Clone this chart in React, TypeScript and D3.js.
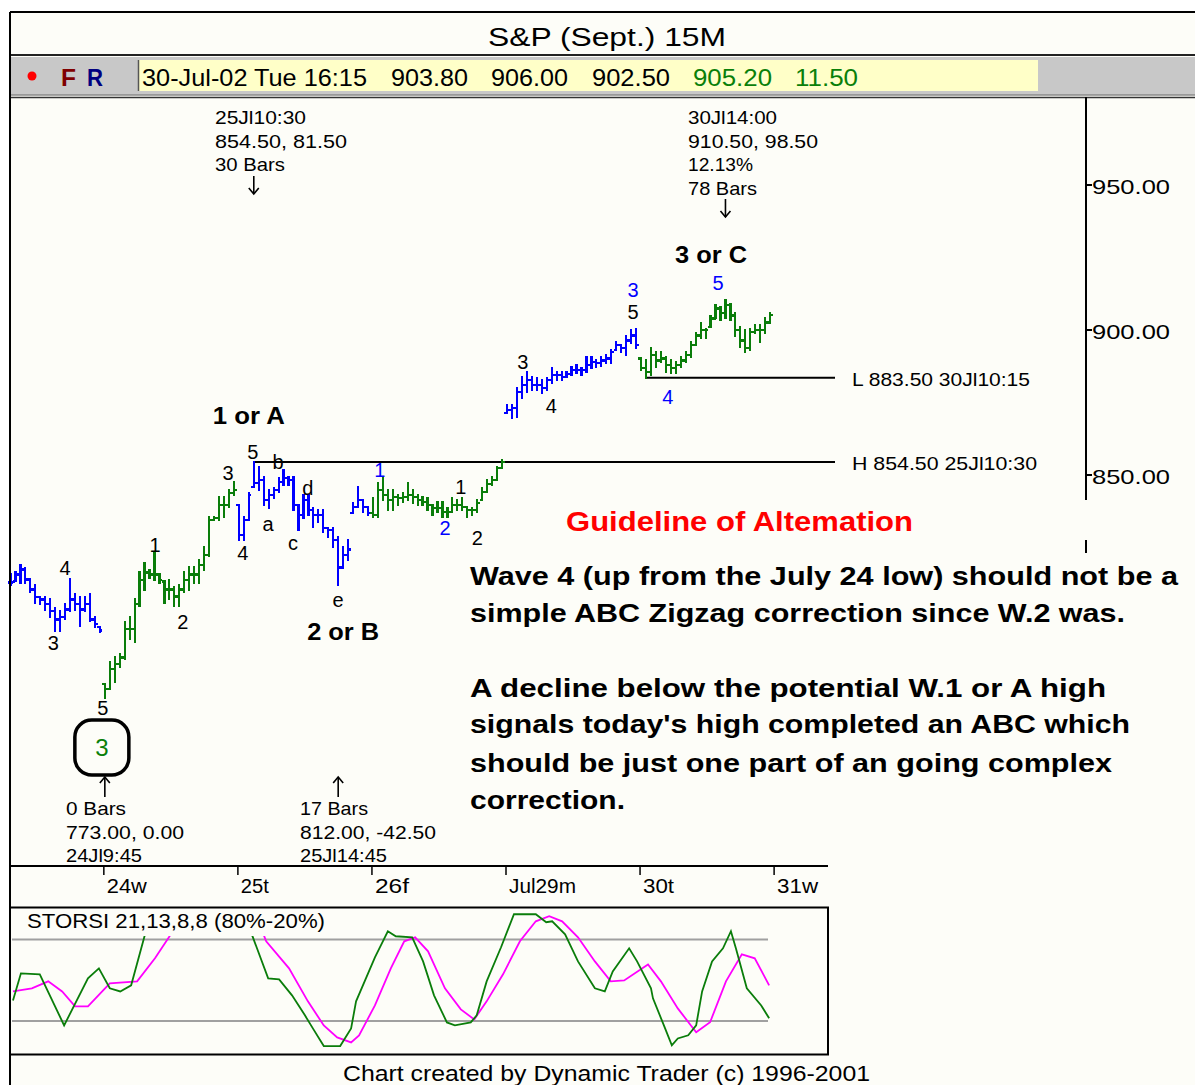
import React from "react";
import * as d3 from "d3";

type Bar = [number, number, number]; // high, low, close

// ---- price bars (15 min), one array per session ----
const jul23: Bar[] = [
  [815.7,812.2,812.9],[816.7,813.3,815.7],[819.1,812.9,817.4],[818.1,812.9,814.0],[814.0,809.5,810.5],
  [812.2,806.0,807.8],[808.1,805.4,807.1],[807.8,803.6,805.4],[807.1,801.2,803.0],[804.3,796.1,800.2],
  [803.0,796.1,800.9],[805.4,800.2,803.6],[814.0,803.0,807.1],[808.8,803.6,805.4],[807.8,797.8,803.6],
  [808.1,803.0,805.4],[808.8,799.5,800.2],[800.9,797.5,798.5],[797.5,795.7,796.4]
];
const jul24: Bar[] = [
  [777.9,773.0,776.1],[785.4,776.1,783.0],[787.1,778.6,784.7],[788.2,783.7,787.1],[799.2,786.5,796.8],
  [800.9,793.3,796.8],[807.1,792.3,805.4],[816.4,804.7,813.9],[819.8,810.5,816.4],[817.4,814.6,815.7],
  [823.2,813.9,815.7],[815.7,812.9,813.9],[813.3,806.0,810.5],[813.9,807.1,810.5],[811.5,804.7,808.1],
  [812.2,804.7,810.5],[816.4,809.5,813.9],[818.4,810.5,815.7],[818.4,812.9,815.7],[820.8,812.9,819.1],
  [825.3,817.4,822.5],[835.6,821.9,834.6],[835.6,834.6,835.3],[842.5,834.6,839.7],[842.5,835.6,839.7],
  [844.9,839.0,843.8],[847.6,843.2,844.9]
];
const jul25: Bar[] = [
  [839.7,827.7,829.4],[835.6,827.7,834.6],[843.8,834.6,843.2],[854.5,845.9,847.3],[852.8,844.9,848.3],
  [849.3,839.7,841.4],[844.9,838.7,843.2],[845.6,842.1,844.9],[849.0,844.2,847.6],[851.7,846.6,849.0],
  [849.3,846.6,848.3],[849.3,838.0,839.7],[839.7,831.1,836.3],[843.2,835.3,841.4],[843.2,836.3,838.0],
  [838.7,832.2,836.3],[838.0,833.9,836.3],[838.0,830.4,831.8],[831.8,828.7,831.1],[831.8,825.3,827.7],
  [828.7,812.0,818.1],[825.3,818.1,822.5],[827.7,820.8,824.3],[840.4,837.0,839.0],[845.9,839.0,841.4],
  [841.4,837.3,839.0],[839.0,836.3,837.0]
];
const jul26: Bar[] = [
  [842.1,835.6,836.3],[847.3,835.6,844.9],[849.0,841.4,843.2],[844.9,838.0,841.4],[844.9,838.0,842.5],
  [843.2,839.7,842.1],[843.8,840.8,842.5],[847.3,841.4,843.2],[844.9,840.4,842.5],[843.2,839.7,841.4],
  [842.5,839.7,840.8],[842.1,838.0,839.7],[839.7,836.3,838.7],[840.8,837.3,838.7],[840.8,835.6,837.3],
  [838.7,835.6,837.3],[842.1,837.3,839.7],[841.4,838.0,839.7],[842.1,838.0,839.0],[839.0,835.6,838.0],
  [838.7,836.3,838.0],[841.4,837.3,840.4],[845.6,841.4,844.2],[848.3,844.2,846.9],[849.3,846.6,848.3],
  [852.8,848.3,852.4],[855.2,852.4,854.5]
];
const jul29: Bar[] = [
  [874.1,871.3,872.4],[874.1,869.6,873.1],[879.9,870.0,878.6],[883.7,876.5,881.0],[885.4,878.6,882.7],
  [883.7,879.2,881.0],[883.4,879.2,881.0],[882.7,878.2,880.0],[883.4,879.2,882.7],[886.8,881.6,884.4],
  [885.4,882.7,884.4],[885.4,882.7,883.7],[885.4,883.7,884.7],[887.1,884.4,886.1],[887.8,885.1,886.1],
  [886.8,884.4,886.1],[890.6,885.4,887.8],[890.6,886.8,888.9],[889.5,887.1,888.5],[890.6,887.5,889.5],
  [891.3,888.5,890.2],[893.0,888.5,892.3],[895.7,893.0,894.7],[894.7,892.3,893.7],[898.1,891.3,896.4],
  [899.9,895.4,898.1],[900.5,893.7,894.7]
];
const jul30: Bar[] = [
  [890.2,886.1,886.8],[889.5,883.5,885.4],[893.7,884.4,891.3],[892.3,887.1,889.5],[892.3,888.9,890.2],
  [890.6,885.4,887.8],[889.5,885.1,886.8],[888.9,885.1,887.8],[890.6,887.1,889.5],[892.3,888.9,891.3],
  [895.7,890.6,894.7],[898.8,894.7,898.1],[902.3,897.1,899.9],[900.5,897.1,899.9],[905.0,900.9,904.0],
  [908.5,904.0,907.4],[907.8,903.3,906.0],[910.5,904.0,908.5],[909.1,903.3,905.0],[906.0,898.1,899.9],
  [900.9,894.0,896.4],[899.9,892.3,893.7],[900.5,893.0,899.2],[901.6,898.8,899.9],[901.6,895.7,899.9],
  [904.0,898.8,902.6],[906.0,902.5,905.2]
];
const sessions: Bar[][] = [jul23, jul24, jul25, jul26, jul29, jul30];
const sessionColors = ["#0000ff", "#0a7d0a", "#0000ff", "#0a7d0a", "#0000ff", "#0a7d0a"];

// ---- axes ----
const dayTickLabels = ["24w", "25t", "26f", "Jul29m", "30t", "31w"];
const dayTickIndex = [19, 46, 73, 100, 127, 154];
const dayTickWidths = [40, 28, 34, 67, 31, 41];
const priceTicks = [950, 900, 850];

// ---- STORSI oscillator: [bar index, value] ----
const stochK: [number, number][] = [
  [0.5,35.1],[2.1,55.0],[5.9,54.3],[10.8,16.7],[15.6,51.3],[17.8,58.7],[20.0,44.0],[22.1,41.7],[24.3,46.2],
  [27.1,83.7],[28.1,99.6],[47.2,99.6],[48.6,83.7],[51.9,51.3],[54.1,50.6],[56.7,38.8],[59.3,24.1],[60.9,14.5],
  [63.1,1.5],[66.4,1.5],[68.6,14.5],[69.6,34.4],[73.4,66.8],[76.0,86.0],[77.6,82.3],[80.9,81.5],[83.1,63.8],
  [85.3,38.8],[87.9,18.9],[89.5,16.7],[92.7,18.9],[93.9,24.1],[95.9,49.1],[98.8,74.2],[101.4,98.5],[105.8,98.5],
  [107.9,92.6],[109.1,93.3],[111.7,83.7],[114.3,63.8],[117.7,44.0],[119.7,41.7],[121.3,56.4],[124.6,73.4],
  [126.2,63.8],[129.0,44.0],[129.4,36.6],[131.6,16.7],[133.2,2.0],[134.4,7.1],[136.5,9.4],[138.1,16.7],
  [139.3,41.7],[141.3,63.8],[143.5,73.4],[145.1,86.0],[146.1,73.4],[148.3,44.0],[151.2,31.4],[152.8,21.9]
];
const stochD: [number, number][] = [
  [0.5,41.7],[4.3,44.0],[7.6,49.1],[10.4,41.7],[13.0,30.7],[15.6,30.7],[20.0,47.6],[25.5,49.1],[29.1,66.1],
  [32.3,83.7],[36.2,99.3],[49.8,94.6],[51.5,78.6],[56.1,58.7],[59.9,34.4],[63.1,16.7],[65.8,7.9],[68.6,4.2],
  [70.2,9.4],[73.4,31.4],[76.6,58.7],[79.3,78.6],[81.5,81.5],[84.1,71.2],[87.5,44.0],[90.7,28.5],[93.4,21.1],
  [95.9,34.4],[99.2,54.3],[102.6,78.6],[105.8,93.3],[108.5,97.0],[111.1,93.3],[114.3,81.5],[117.7,63.8],
  [120.9,49.1],[123.6,49.8],[128.4,61.6],[131.0,49.1],[134.4,29.2],[138.1,11.6],[140.9,19.0],[144.1,49.1],
  [147.3,69.0],[149.9,66.1],[152.8,46.2]
];
const oscBands = [80, 20];

// ---- wave labels: [text, bar index, price, colour] ----
const waveLabels: [string, number, number, string][] = [
  ["4", 11.0, 817.9, "#000"], ["3", 8.6, 792.1, "#000"], ["5", 18.6, 769.7, "#000"],
  ["1", 29.1, 825.9, "#000"], ["2", 34.7, 799.3, "#000"], ["3", 43.8, 850.7, "#000"],
  ["4", 46.8, 823.1, "#000"], ["5", 48.8, 857.9, "#000"], ["b", 53.9, 854.5, "#000"],
  ["a", 51.9, 833.1, "#000"], ["c", 56.9, 826.6, "#000"], ["d", 59.9, 845.5, "#000"],
  ["e", 65.96, 806.9, "#000"], ["1", 74.4, 851.7, "#0000ff"], ["2", 87.5, 831.7, "#0000ff"],
  ["1", 90.7, 845.9, "#000"], ["2", 94.0, 828.3, "#000"], ["3", 103.2, 889.0, "#000"],
  ["4", 108.9, 873.8, "#000"], ["3", 125.4, 913.8, "#0000ff"], ["5", 125.4, 906.2, "#000"],
  ["4", 132.4, 876.9, "#0000ff"], ["5", 142.5, 916.2, "#0000ff"]
];
const degreeLabels: [string, number, number][] = [
  ["1 or A", 48.0, 870.3], ["2 or B", 67.0, 795.9], ["3 or C", 141.1, 925.9]
];

// ---- swing annotations ----
const highInfo = ["25Jl10:30", "854.50, 81.50", "30 Bars"];
const highInfo2 = ["30Jl14:00", "910.50, 98.50", "12.13%", "78 Bars"];
const lowInfo = ["0 Bars", "773.00, 0.00", "24Jl9:45"];
const lowInfo2 = ["17 Bars", "812.00, -42.50", "25Jl14:45"];
const levelLines: [string, number, number][] = [["H 854.50 25Jl10:30", 49, 854.5], ["L 883.50 30Jl10:15", 128, 883.5]];

const statusValues = ["903.80", "906.00", "902.50", "905.20", "11.50"];
const paragraph = [
  "Wave 4 (up from the July 24 low) should not be a",
  "simple ABC Zigzag correction since W.2 was.",
  "",
  "A decline below the potential W.1 or A high",
  "signals today's high completed an ABC which",
  "should be just one part of an going complex",
  "correction."
];

const BG = "#fdfdf8";
const FONT = "'Liberation Sans', Arial, sans-serif";

const x = d3.scaleLinear().domain([0, 154]).range([10.5, 10.5 + 154 * 4.965]);
const y = d3.scaleLinear().domain([850, 950]).range([475, 185]);
const oy = d3.scaleLinear().domain([0, 100]).range([1048.1, 912.2]);

function T(props: any) {
  const { x: tx, y: ty, w, size = 20, fill = "#000", weight = "normal", anchor = "start", children, baseline, family } = props;
  return (
    <text x={tx} y={ty} fontSize={size} fill={fill} fontWeight={weight} textAnchor={anchor}
      fontFamily={family || FONT} dominantBaseline={baseline}
      {...(w ? { textLength: w, lengthAdjust: "spacingAndGlyphs" } : {})}>{children}</text>
  );
}

function Arrow({ ax, y1, y2 }: { ax: number; y1: number; y2: number }) {
  const d = y2 > y1 ? -6 : 6;
  return (
    <g stroke="#000" strokeWidth={1.6} fill="none">
      <line x1={ax} x2={ax} y1={y1} y2={y2} />
      <polyline points={`${ax - 5},${y2 + d} ${ax},${y2} ${ax + 5},${y2 + d}`} />
    </g>
  );
}

export default function App() {
  const bars: JSX.Element[] = [];
  let idx = 0;
  let prevClose: number | null = null;
  sessions.forEach((sess, si) => {
    const col = sessionColors[si];
    sess.forEach(([h, l, c]) => {
      const o = prevClose == null ? c : Math.max(l, Math.min(h, prevClose));
      const cx = x(idx);
      bars.push(
        <g key={idx} stroke={col} strokeWidth={2.2}>
          <line x1={cx} x2={cx} y1={y(h) - 1} y2={y(l) + 1} />
          <line x1={cx - 2.6} x2={cx} y1={y(o)} y2={y(o)} />
          <line x1={cx} x2={cx + 2.6} y1={y(c)} y2={y(c)} />
        </g>
      );
      prevClose = c;
      idx++;
    });
  });

  const oscLine = d3.line<[number, number]>().x(d => x(d[0])).y(d => oy(d[1]));

  return (
    <svg width={1195} height={1085} style={{ position: "absolute", left: 0, top: 0, display: "block" }}>
      <defs>
        <clipPath id="oscClip"><rect x={11} y={909} width={816} height={144} /></clipPath>
      </defs>
      <rect x={0} y={0} width={1195} height={1085} fill="#ffffff" />
      <rect x={10} y={12} width={1190} height={1080} fill={BG} />

      {/* title bar */}
      <T x={607} y={46} size={26} anchor="middle" w={238}>S&amp;P (Sept.) 15M</T>
      <line x1={10} x2={1195} y1={55} y2={55} stroke="#222" strokeWidth={2} />
      {/* status bar */}
      <rect x={10} y={57} width={1185} height={38} fill="#c8c8c8" />
      <rect x={138} y={60} width={900} height={31} fill="#ffffc8" />
      <line x1={138.5} x2={138.5} y1={60} y2={91} stroke="#555" strokeWidth={1.5} />
      <line x1={10} x2={1195} y1={95} y2={95} stroke="#8a8a8a" strokeWidth={1.5} />
      <line x1={10} x2={1195} y1={97.5} y2={97.5} stroke="#333" strokeWidth={1.5} />
      <circle cx={32} cy={76} r={4.5} fill="#ff0000" />
      <T x={61} y={86} size={23} weight="bold" fill="#800000" w={15}>F</T>
      <T x={87} y={86} size={23} weight="bold" fill="#000080" w={16}>R</T>
      <T x={142} y={86} size={24} w={225}>30-Jul-02 Tue 16:15</T>
      <T x={391} y={86} size={24} w={77}>{statusValues[0]}</T>
      <T x={491} y={86} size={24} w={77}>{statusValues[1]}</T>
      <T x={592} y={86} size={24} w={78}>{statusValues[2]}</T>
      <T x={693} y={86} size={24} w={79} fill="#0a800a">{statusValues[3]}</T>
      <T x={795} y={86} size={24} w={63} fill="#0a800a">{statusValues[4]}</T>

      {/* right price axis */}
      <g stroke="#000" strokeWidth={2}>
        <line x1={1086} x2={1086} y1={97} y2={500} />
        <line x1={1086} x2={1086} y1={540} y2={553} />
        {priceTicks.map(p => <line key={p} x1={1086} x2={1092} y1={y(p)} y2={y(p)} />)}
      </g>
      {priceTicks.map(p => (
        <T key={p} x={1092} y={y(p) + 9} size={21} w={78}>{p.toFixed(2)}</T>
      ))}

      {/* level lines */}
      {levelLines.map(([t, i, p]) => (
        <g key={t}>
          <line x1={x(i)} x2={835} y1={y(p)} y2={y(p)} stroke="#000" strokeWidth={2} />
          <T x={852} y={y(p) + 8} size={19} w={t.startsWith("H") ? 185 : 178}>{t}</T>
        </g>
      ))}

      {/* price bars */}
      <g shapeRendering="crispEdges">{bars}</g>

      {/* wave labels */}
      {waveLabels.map(([t, i, p, c], k) => (
        <T key={k} x={x(i)} y={y(p) + 7} size={20} fill={c} anchor="middle">{t}</T>
      ))}
      {degreeLabels.map(([t, i, p]) => (
        <T key={t} x={x(i)} y={y(p) + 8} size={23} weight="bold" anchor="middle" w={72}>{t}</T>
      ))}

      {/* circled 3 */}
      <rect x={x(18.4) - 27} y={y(756.2) - 27} width={54} height={55} rx={17} ry={17}
        fill="none" stroke="#000" strokeWidth={3.5} />
      <T x={x(18.4)} y={y(756.2) + 9} size={24} fill="#0a800a" anchor="middle">3</T>

      {/* swing annotations */}
      {highInfo.map((t, k) => (
        <T key={t} x={215} y={124 + k * 23.5} size={19} w={[91, 132, 70][k]}>{t}</T>
      ))}
      <Arrow ax={x(49)} y1={176} y2={194} />
      {highInfo2.map((t, k) => (
        <T key={t} x={688} y={124 + k * 23.5} size={19} w={[89, 130, 65, 69][k]}>{t}</T>
      ))}
      <Arrow ax={x(144)} y1={199} y2={217} />
      <Arrow ax={x(19)} y1={797} y2={777} />
      {lowInfo.map((t, k) => (
        <T key={t} x={66} y={815 + k * 23.5} size={19} w={[60, 118, 76][k]}>{t}</T>
      ))}
      <Arrow ax={x(66)} y1={797} y2={777} />
      {lowInfo2.map((t, k) => (
        <T key={t} x={300} y={815 + k * 23.5} size={19} w={[68, 136, 87][k]}>{t}</T>
      ))}

      {/* commentary */}
      <T x={566} y={531} size={28} weight="bold" fill="#ff0000" w={347}>Guideline of Altemation</T>
      {paragraph.map((t, k) => t ? (
        <T key={k} x={470} y={[585, 622, 0, 697, 733, 772, 809][k]} size={26} weight="bold"
          w={[708, 655, 0, 636, 660, 642, 155][k]}>{t}</T>
      ) : null)}

      {/* x axis */}
      <line x1={10} x2={828} y1={866} y2={866} stroke="#000" strokeWidth={2} />
      {dayTickIndex.map((i, k) => (
        <g key={i}>
          <line x1={x(i) - 1} x2={x(i) - 1} y1={866} y2={875} stroke="#000" strokeWidth={1.5} />
          <T x={x(i) + 2} y={893} size={20} w={dayTickWidths[k]}>{dayTickLabels[k]}</T>
        </g>
      ))}

      {/* oscillator panel */}
      <rect x={10} y={907.5} width={818} height={147} fill="none" stroke="#000" strokeWidth={2} />
      <g clipPath="url(#oscClip)">
        {oscBands.map(b => (
          <line key={b} x1={12} x2={768} y1={oy(b)} y2={oy(b)} stroke="#a0a0a0" strokeWidth={2} />
        ))}
        <path d={oscLine(stochD) || ""} fill="none" stroke="#ff00ff" strokeWidth={1.8} />
        <path d={oscLine(stochK) || ""} fill="none" stroke="#0a7d0a" strokeWidth={1.8} />
        <rect x={12} y={909} width={316} height={27} fill={BG} />
      </g>
      <T x={27} y={928} size={20} w={298}>STORSI 21,13,8,8 (80%-20%)</T>

      {/* footer */}
      <T x={343} y={1081} size={22} w={527}>Chart created by Dynamic Trader (c) 1996-2001</T>

      {/* frame */}
      <line x1={10} x2={10} y1={12} y2={1085} stroke="#000" strokeWidth={2} />
      <line x1={10} x2={1195} y1={12} y2={12} stroke="#000" strokeWidth={2} />
    </svg>
  );
}
